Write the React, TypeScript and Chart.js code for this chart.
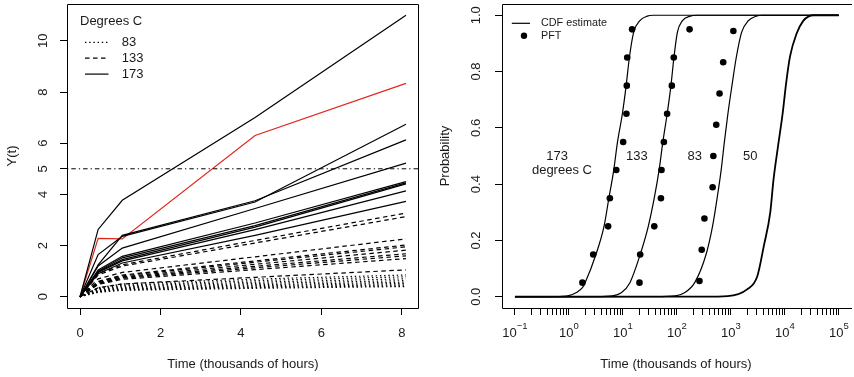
import React, { useEffect, useRef } from "react";
import { Chart, registerables } from "chart.js";

Chart.register(...registerables);

// ================= Left panel: degradation paths =================
const TIMES = [0, 0.45, 1.05, 4.35, 8.1];

const PATHS_173 = [
  [0, 2.63, 3.77, 7.0, 11.0],
  [0, 1.65, 2.36, 3.7, 6.74],
  [0, 1.25, 2.4, 3.75, 6.13],
  [0, 1.2, 1.9, 3.45, 5.22],
  [0, 1.05, 1.58, 2.88, 4.5],
  [0, 1.0, 1.52, 2.78, 4.45],
  [0, 0.97, 1.45, 2.72, 4.41],
  [0, 0.95, 1.4, 2.62, 4.14],
  [0, 0.9, 1.32, 2.4, 3.73],
];
const PATH_173_RED = [0, 2.28, 2.26, 6.3, 8.34];

const PATHS_133 = [
  [0, 0.9, 1.25, 2.2, 3.27],
  [0, 0.85, 1.2, 2.1, 3.13],
  [0, 0.7, 0.95, 1.56, 2.26],
  [0, 0.6, 0.85, 1.4, 2.02],
  [0, 0.58, 0.82, 1.35, 1.95],
  [0, 0.55, 0.78, 1.27, 1.82],
  [0, 0.52, 0.75, 1.19, 1.68],
  [0, 0.5, 0.72, 1.13, 1.6],
  [0, 0.48, 0.68, 1.06, 1.49],
  [0, 0.35, 0.5, 0.76, 1.05],
];

const PATHS_83 = [
  [0, 0.35, 0.5, 0.69, 0.85],
  [0, 0.32, 0.45, 0.63, 0.78],
  [0, 0.3, 0.42, 0.57, 0.7],
  [0, 0.27, 0.38, 0.52, 0.63],
  [0, 0.25, 0.35, 0.47, 0.57],
  [0, 0.23, 0.32, 0.43, 0.52],
  [0, 0.21, 0.3, 0.39, 0.47],
  [0, 0.19, 0.27, 0.36, 0.43],
  [0, 0.17, 0.25, 0.33, 0.4],
];

const THRESHOLD = 5;
const LEFT_X_TICKS = [0, 2, 4, 6, 8];
const LEFT_Y_TICKS = [0, 2, 4, 5, 6, 8, 10];
const LEGEND_TITLE = "Degrees C";
const LEGEND_TEMPS = ["83", "133", "173"];

// ================= Right panel: CDF estimates =================
const CDF_LOGT_173 = [-1, -0.3, 0.0, 0.13, 0.25, 0.3, 0.5, 0.65, 0.74, 0.83, 0.9, 0.99, 1.06, 1.12, 1.2, 1.31, 1.45, 1.56, 5];
const CDF_P_173 = [0, 0.0005, 0.004, 0.014, 0.032, 0.05, 0.15, 0.25, 0.35, 0.45, 0.55, 0.65, 0.75, 0.85, 0.94, 0.98, 0.997, 1, 1];

const CDF_LOGT_133 = [-1, 0.5, 0.8, 0.97, 1.13, 1.32, 1.47, 1.58, 1.67, 1.74, 1.82, 1.89, 1.945, 2.01, 2.1, 2.25, 2.36, 5];
const CDF_P_133 = [0, 0.0003, 0.003, 0.014, 0.05, 0.15, 0.25, 0.35, 0.45, 0.55, 0.65, 0.75, 0.85, 0.94, 0.98, 0.997, 1, 1];

const CDF_LOGT_83 = [-1, 1.6, 1.97, 2.14, 2.33, 2.54, 2.66, 2.745, 2.82, 2.88, 2.945, 3.02, 3.1, 3.2, 3.32, 3.47, 3.58, 5];
const CDF_P_83 = [0, 0.0003, 0.003, 0.014, 0.05, 0.15, 0.25, 0.35, 0.45, 0.55, 0.65, 0.75, 0.85, 0.94, 0.98, 0.997, 1, 1];

const CDF_LOGT_50 = [-1, 2.5, 2.94, 3.3, 3.49, 3.61, 3.73, 3.79, 3.87, 3.96, 4.02, 4.095, 4.22, 4.34, 4.45, 4.53, 5];
const CDF_P_50 = [0, 0.0002, 0.002, 0.026, 0.073, 0.18, 0.3, 0.416, 0.53, 0.652, 0.753, 0.853, 0.936, 0.98, 0.997, 1, 1];

const PFT_LOGT_173 = [0.25, 0.45, 0.726, 0.758, 0.877, 1.005, 1.065, 1.072, 1.08, 1.17];
const PFT_P_173 = [0.05, 0.15, 0.25, 0.35, 0.45, 0.55, 0.65, 0.75, 0.85, 0.95];
const PFT_LOGT_133 = [1.307, 1.32, 1.581, 1.704, 1.715, 1.759, 1.819, 1.906, 1.942, 2.235];
const PFT_P_133 = [0.05, 0.15, 0.25, 0.35, 0.45, 0.55, 0.65, 0.75, 0.85, 0.95];
const PFT_LOGT_83 = [2.418, 2.46, 2.51, 2.662, 2.675, 2.729, 2.79, 2.858, 3.046];
const PFT_P_83 = [0.056, 0.167, 0.278, 0.389, 0.5, 0.611, 0.722, 0.833, 0.944];

const CURVE_LABELS = ["173", "degrees C", "133", "83", "50"];
const CURVE_LABEL_LOGT = [-0.22, -0.13, 1.26, 2.33, 3.36];
const CURVE_LABEL_P = [0.5, 0.45, 0.5, 0.5, 0.5];

const RIGHT_Y_TICKS = [0, 0.2, 0.4, 0.6, 0.8, 1.0];
const RIGHT_X_DECADES = [-1, 0, 1, 2, 3, 4, 5];
const RIGHT_X_EXPONENTS = ["\u22121", "0", "1", "2", "3", "4", "5"];
const RIGHT_MINOR_MULTIPLIERS = [2, 3, 4, 5, 6, 7, 8, 9];
const RIGHT_LEGEND = ["CDF estimate", "PFT"];

const X_TITLE = "Time (thousands of hours)";
const LEFT_Y_TITLE = "Y(t)";
const RIGHT_Y_TITLE = "Probability";

// ================= styling =================
const FONT_FAMILY = "'Liberation Sans', Arial, Helvetica, sans-serif";
const TEXT_COLOR = "#1a1a1a";
const RED = "rgb(226, 38, 28)";
const LW = 1.2;
const DOTTED = [1.4, 2.8];
const DASHED = [4.5, 3.5];
const DOTDASH = [1.3, 3, 4.5, 3];
const LEGEND_DASHES = [DOTTED, DASHED, []];

function expandRange(min: number, max: number): [number, number] {
  const r = max - min;
  return [min - 0.04 * r, max + 0.04 * r];
}

const font13 = { family: FONT_FAMILY, size: 13 };

function boxPlugin(drawRight: boolean) {
  return {
    id: "box",
    afterDraw(chart: any) {
      const { ctx, chartArea: a } = chart;
      ctx.save();
      ctx.strokeStyle = "#000";
      ctx.lineWidth = 1;
      ctx.setLineDash([]);
      const l = Math.round(a.left) + 0.5;
      const t = Math.round(a.top) + 0.5;
      const b = Math.round(a.bottom) + 0.5;
      const r = Math.round(a.right) - 0.5;
      ctx.beginPath();
      if (drawRight) {
        ctx.moveTo(r, t);
        ctx.lineTo(l, t);
        ctx.lineTo(l, b);
        ctx.lineTo(r, b);
        ctx.closePath();
      } else {
        ctx.moveTo(a.right + 2, t);
        ctx.lineTo(l, t);
        ctx.lineTo(l, b);
        ctx.lineTo(a.right + 2, b);
      }
      ctx.stroke();
      ctx.restore();
    },
  };
}

const leftLegendPlugin = {
  id: "leftLegend",
  afterDraw(chart: any) {
    const { ctx, chartArea: a } = chart;
    ctx.save();
    ctx.font = `13px ${FONT_FAMILY}`;
    ctx.fillStyle = TEXT_COLOR;
    ctx.textBaseline = "middle";
    ctx.textAlign = "left";
    ctx.fillText(LEGEND_TITLE, a.left + 13, a.top + 17.5);
    ctx.strokeStyle = "#000";
    ctx.lineWidth = LW;
    LEGEND_TEMPS.forEach((lab, i) => {
      const y = a.top + 38.3 + i * 15.9;
      ctx.setLineDash(LEGEND_DASHES[i]);
      ctx.beginPath();
      ctx.moveTo(a.left + 18, y);
      ctx.lineTo(a.left + 41.5, y);
      ctx.stroke();
      ctx.setLineDash([]);
      ctx.fillText(lab, a.left + 54.7, y);
    });
    ctx.restore();
  },
};

const rightDecorPlugin = {
  id: "rightDecor",
  afterDraw(chart: any) {
    const { ctx, chartArea: a, scales } = chart;
    const xs = scales.x;
    const ys = scales.y;
    ctx.save();
    // legend
    ctx.fillStyle = TEXT_COLOR;
    ctx.strokeStyle = "#000";
    ctx.lineWidth = LW;
    ctx.font = `10.8px ${FONT_FAMILY}`;
    ctx.textBaseline = "middle";
    ctx.textAlign = "left";
    const ly0 = a.top + 19.3;
    ctx.beginPath();
    ctx.moveTo(a.left + 9.8, ly0);
    ctx.lineTo(a.left + 28, ly0);
    ctx.stroke();
    ctx.fillText(RIGHT_LEGEND[0], a.left + 39, ly0);
    const ly1 = a.top + 31.7;
    ctx.beginPath();
    ctx.arc(a.left + 22, ly1, 3.2, 0, Math.PI * 2);
    ctx.fillStyle = "#000";
    ctx.fill();
    ctx.fillStyle = TEXT_COLOR;
    ctx.fillText(RIGHT_LEGEND[1], a.left + 39, ly1);

    // curve labels
    ctx.font = `13px ${FONT_FAMILY}`;
    ctx.textAlign = "center";
    CURVE_LABELS.forEach((lab, i) => {
      const x = xs.getPixelForValue(Math.pow(10, CURVE_LABEL_LOGT[i]));
      const y = ys.getPixelForValue(CURVE_LABEL_P[i]);
      ctx.fillText(lab, x, y);
    });

    // x tick labels 10^k
    RIGHT_X_DECADES.forEach((d, i) => {
      const px = xs.getPixelForValue(Math.pow(10, d));
      ctx.font = `13px ${FONT_FAMILY}`;
      const w10 = ctx.measureText("10").width;
      ctx.font = `9.5px ${FONT_FAMILY}`;
      const we = ctx.measureText(RIGHT_X_EXPONENTS[i]).width;
      const x0 = px - (w10 + we) / 2;
      ctx.textAlign = "left";
      ctx.font = `13px ${FONT_FAMILY}`;
      ctx.fillText("10", x0, a.bottom + 25.5);
      ctx.font = `9.5px ${FONT_FAMILY}`;
      ctx.fillText(RIGHT_X_EXPONENTS[i], x0 + w10, a.bottom + 18.7);
    });
    ctx.restore();
  },
};

function pts(xs: number[], ys: number[]) {
  return xs.map((x, i) => ({ x, y: ys[i] }));
}
function logPts(lts: number[], ps: number[]) {
  return lts.map((lt, i) => ({ x: Math.pow(10, lt), y: ps[i] }));
}

export default function App() {
  const leftRef = useRef<HTMLCanvasElement>(null);
  const rightRef = useRef<HTMLCanvasElement>(null);

  useEffect(() => {
    // ---------- left chart ----------
    const [lxMin, lxMax] = expandRange(Math.min(...TIMES), Math.max(...TIMES));
    const allY = [...PATHS_173.flat(), ...PATH_173_RED, ...PATHS_133.flat(), ...PATHS_83.flat()];
    const [lyMin, lyMax] = expandRange(Math.min(...allY), Math.max(...allY));

    const lineDs = (vals: number[], dash: number[], color = "#000") => ({
      data: pts(TIMES, vals),
      borderColor: color,
      borderWidth: LW,
      borderDash: dash,
      pointRadius: 0,
      fill: false,
      tension: 0,
    });

    const leftDatasets: any[] = [
      ...PATHS_83.map((v) => lineDs(v, DOTTED)),
      ...PATHS_133.map((v) => lineDs(v, DASHED)),
      ...PATHS_173.map((v) => lineDs(v, [])),
      {
        data: [
          { x: lxMin, y: THRESHOLD },
          { x: lxMax, y: THRESHOLD },
        ],
        borderColor: "#000",
        borderWidth: 1,
        borderDash: DOTDASH,
        pointRadius: 0,
        fill: false,
      },
      lineDs(PATH_173_RED, [], RED),
    ];

    const tickGrid = {
      display: true,
      drawOnChartArea: false,
      drawTicks: true,
      tickLength: 7,
      color: "#000",
      lineWidth: 1,
    };

    const left = new Chart(leftRef.current as HTMLCanvasElement, {
      type: "line",
      data: { datasets: leftDatasets },
      options: {
        responsive: false,
        animation: false,
        events: [],
        layout: { padding: { top: 4, right: 11, left: 0, bottom: 0 } },
        plugins: { legend: { display: false }, tooltip: { enabled: false } },
        scales: {
          x: {
            type: "linear",
            min: lxMin,
            max: lxMax,
            afterBuildTicks: (s: any) => {
              s.ticks = LEFT_X_TICKS.map((v) => ({ value: v }));
            },
            afterFit: (s: any) => {
              s.height = 69;
              s.paddingLeft = 0;
              s.paddingRight = 0;
            },
            grid: tickGrid,
            border: { display: false },
            ticks: { font: font13, color: TEXT_COLOR, padding: 10.2, maxRotation: 0, autoSkip: false },
            title: { display: true, text: X_TITLE, font: font13, color: TEXT_COLOR, padding: { top: 0, bottom: 4.7 } },
          },
          y: {
            type: "linear",
            min: lyMin,
            max: lyMax,
            afterBuildTicks: (s: any) => {
              s.ticks = LEFT_Y_TICKS.map((v) => ({ value: v }));
            },
            afterFit: (s: any) => {
              s.width = 67;
              s.paddingTop = 0;
              s.paddingBottom = 0;
            },
            grid: tickGrid,
            border: { display: false },
            ticks: {
              font: font13,
              color: TEXT_COLOR,
              padding: 9.5,
              minRotation: 90,
              maxRotation: 90,
              crossAlign: "center",
              autoSkip: false,
            },
            title: { display: true, text: LEFT_Y_TITLE, font: font13, color: TEXT_COLOR, padding: { top: 4.7, bottom: 0 } },
          },
        },
      } as any,
      plugins: [boxPlugin(true), leftLegendPlugin],
    });

    // ---------- right chart ----------
    const [ryMin, ryMax] = expandRange(0, 1);
    const [rxLogMin] = expandRange(RIGHT_X_DECADES[0], RIGHT_X_DECADES[RIGHT_X_DECADES.length - 1]);
    const rxLogMaxVisible = 5.207; // panel is cropped at the right edge of the picture

    const cdfDs = (lts: number[], ps: number[], w = LW) => ({
      data: logPts(lts, ps),
      borderColor: "#000",
      borderWidth: w,
      pointRadius: 0,
      fill: false,
      cubicInterpolationMode: "monotone",
    });
    const pftDs = (lts: number[], ps: number[]) => ({
      data: logPts(lts, ps),
      showLine: false,
      pointRadius: 3.3,
      pointBackgroundColor: "#000",
      pointBorderWidth: 0,
      borderColor: "#000",
    });

    const rightTicks: number[] = [];
    RIGHT_X_DECADES.forEach((d, i) => {
      rightTicks.push(Math.pow(10, d));
      if (i < RIGHT_X_DECADES.length - 1) {
        RIGHT_MINOR_MULTIPLIERS.forEach((m) => rightTicks.push(m * Math.pow(10, d)));
      }
    });

    const right = new Chart(rightRef.current as HTMLCanvasElement, {
      type: "line",
      data: {
        datasets: [
          cdfDs(CDF_LOGT_173, CDF_P_173),
          cdfDs(CDF_LOGT_133, CDF_P_133),
          cdfDs(CDF_LOGT_83, CDF_P_83),
          cdfDs(CDF_LOGT_50, CDF_P_50, 1.8),
          pftDs(PFT_LOGT_173, PFT_P_173),
          pftDs(PFT_LOGT_133, PFT_P_133),
          pftDs(PFT_LOGT_83, PFT_P_83),
        ] as any,
      },
      options: {
        responsive: false,
        animation: false,
        events: [],
        layout: { padding: { top: 4, right: 0, left: 0, bottom: 0 } },
        plugins: { legend: { display: false }, tooltip: { enabled: false } },
        scales: {
          x: {
            type: "logarithmic",
            min: Math.pow(10, rxLogMin),
            max: Math.pow(10, rxLogMaxVisible),
            afterBuildTicks: (s: any) => {
              s.ticks = rightTicks.map((v) => ({ value: v }));
            },
            afterFit: (s: any) => {
              s.height = 69;
              s.paddingLeft = 0;
              s.paddingRight = 0;
            },
            grid: tickGrid,
            border: { display: false },
            ticks: { font: font13, color: TEXT_COLOR, autoSkip: false, maxRotation: 0, callback: () => "" },
            title: { display: true, text: X_TITLE, font: font13, color: TEXT_COLOR, padding: { top: 0, bottom: 4.7 } },
          },
          y: {
            type: "linear",
            min: ryMin,
            max: ryMax,
            afterBuildTicks: (s: any) => {
              s.ticks = RIGHT_Y_TICKS.map((v) => ({ value: v }));
            },
            afterFit: (s: any) => {
              s.width = 72;
              s.paddingTop = 0;
              s.paddingBottom = 0;
            },
            grid: tickGrid,
            border: { display: false },
            ticks: {
              font: font13,
              color: TEXT_COLOR,
              padding: 10,
              minRotation: 90,
              maxRotation: 90,
              crossAlign: "center",
              autoSkip: false,
              callback: (v: any) => Number(v).toFixed(1),
            },
            title: { display: true, text: RIGHT_Y_TITLE, font: font13, color: TEXT_COLOR, padding: { top: 7.9, bottom: 0 } },
          },
        },
      } as any,
      plugins: [boxPlugin(false), rightDecorPlugin],
    });

    return () => {
      left.destroy();
      right.destroy();
    };
  }, []);

  return (
    <div style={{ position: "absolute", left: 0, top: 0, width: 854, height: 377, background: "#fff", overflow: "hidden" }}>
      <canvas ref={leftRef} width={430} height={377} style={{ position: "absolute", left: 0, top: 0, width: 430, height: 377 }} />
      <canvas ref={rightRef} width={424} height={377} style={{ position: "absolute", left: 430, top: 0, width: 424, height: 377 }} />
    </div>
  );
}
